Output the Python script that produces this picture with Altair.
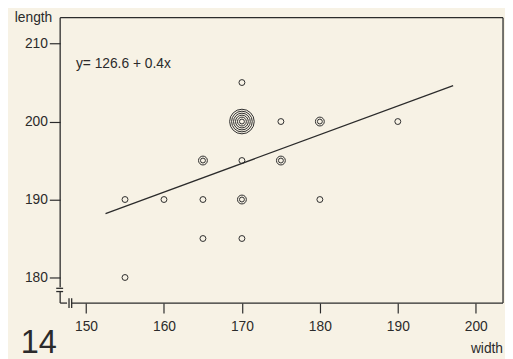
import altair as alt
import pandas as pd

# ---- data ----
width_vals = [155, 155, 160, 165, 165, 165, 170, 170, 170, 170, 170, 175, 175, 180, 180, 190]
length_vals = [190, 180, 190, 195, 190, 185, 205, 200, 195, 190, 185, 200, 195, 200, 190, 200]
counts = [1, 1, 1, 2, 1, 1, 1, 6, 1, 2, 1, 1, 2, 2, 1, 1]

line_x = [152.5, 197.1]
line_y = [188.2, 204.6]

x_ticks = [150, 160, 170, 180, 190, 200]
y_ticks = [180, 190, 200, 210]
equation = "y= 126.6 + 0.4x"

X_DOM = [146.68, 203.5]
Y_DOM = [176.72, 213.32]

INK = "#2b2b2b"
PAPER = "#f7f2e5"
FONT = "Liberation Sans"

# one row per drawn ring (multiplicity shown as concentric circles)
rows = []
for w, l, c in zip(width_vals, length_vals, counts):
    if c == 1:
        rows.append({"width": w, "length": l, "size": 36})
    else:
        for k in range(c):
            r = 2.5 + 2 * k
            rows.append({"width": w, "length": l, "size": (2 * r) ** 2})
rings = pd.DataFrame(rows)
line_df = pd.DataFrame({"width": line_x, "length": line_y})
dummy = pd.DataFrame({"a": [0]})

xscale = alt.Scale(domain=X_DOM, nice=False, zero=False)
yscale = alt.Scale(domain=Y_DOM, nice=False, zero=False)

xaxis = alt.Axis(values=x_ticks, domain=False, grid=False, tickSize=10, tickColor=INK,
                 tickWidth=1.2, labelFont=FONT, labelFontSize=14, labelColor=INK,
                 labelPadding=7, title=None)
yaxis = alt.Axis(values=y_ticks, domain=False, grid=False, tickSize=11, tickColor=INK,
                 tickWidth=1.2, labelFont=FONT, labelFontSize=14, labelColor=INK,
                 labelPadding=2, title=None)

points = alt.Chart(rings).mark_point(shape="circle", filled=False, color=INK,
                                     strokeWidth=1.0, opacity=1).encode(
    x=alt.X("width:Q", scale=xscale, axis=xaxis),
    y=alt.Y("length:Q", scale=yscale, axis=yaxis),
    size=alt.Size("size:Q", scale=None, legend=None),
)

reg = alt.Chart(line_df).mark_line(color=INK, strokeWidth=1.3).encode(
    x=alt.X("width:Q", scale=xscale),
    y=alt.Y("length:Q", scale=yscale),
)


def seg(x1, x2, y1, y2, sw=1.3):
    return alt.Chart(dummy).mark_rule(color=INK, strokeWidth=sw).encode(
        x=alt.value(x1), x2=alt.value(x2), y=alt.value(y1), y2=alt.value(y2))


frame = [
    seg(0, 450, 0, 0),          # top
    seg(450, 450, 0, 290),      # right
    seg(0, 0, 0, 274),          # left upper
    seg(-4, 3, 275, 275),       # y break
    seg(-4, 3, 278.3, 278.3),
    seg(0, 0, 278.3, 290),      # left lower
    seg(0, 7, 290, 290),        # bottom left piece
    seg(9, 9, 285, 295),        # x break
    seg(11.7, 11.7, 285, 295),
    seg(11.7, 450, 290, 290),   # bottom
]


def label(text, x, y, size=14, align="left", baseline="middle"):
    return alt.Chart(dummy).mark_text(text=text, font=FONT, fontSize=size, color=INK,
                                      align=align, baseline=baseline).encode(
        x=alt.value(x), y=alt.value(y))


texts = [
    label(equation, 16, 47),
    label("length", -8, 0, align="right"),
    label("width", 450, 337, align="right"),
    label("14", -40, 341, size=33, baseline="alphabetic"),
]

chart = alt.layer(points, reg, *frame, *texts).properties(
    width=450, height=290,
    background=PAPER,
    padding={"left": 53, "top": 7, "right": 2, "bottom": 54},
    autosize=alt.AutoSizeParams(type="none"),
).configure_view(stroke=None)

chart.save("out.html", embed_options={"renderer": "svg", "actions": False})
